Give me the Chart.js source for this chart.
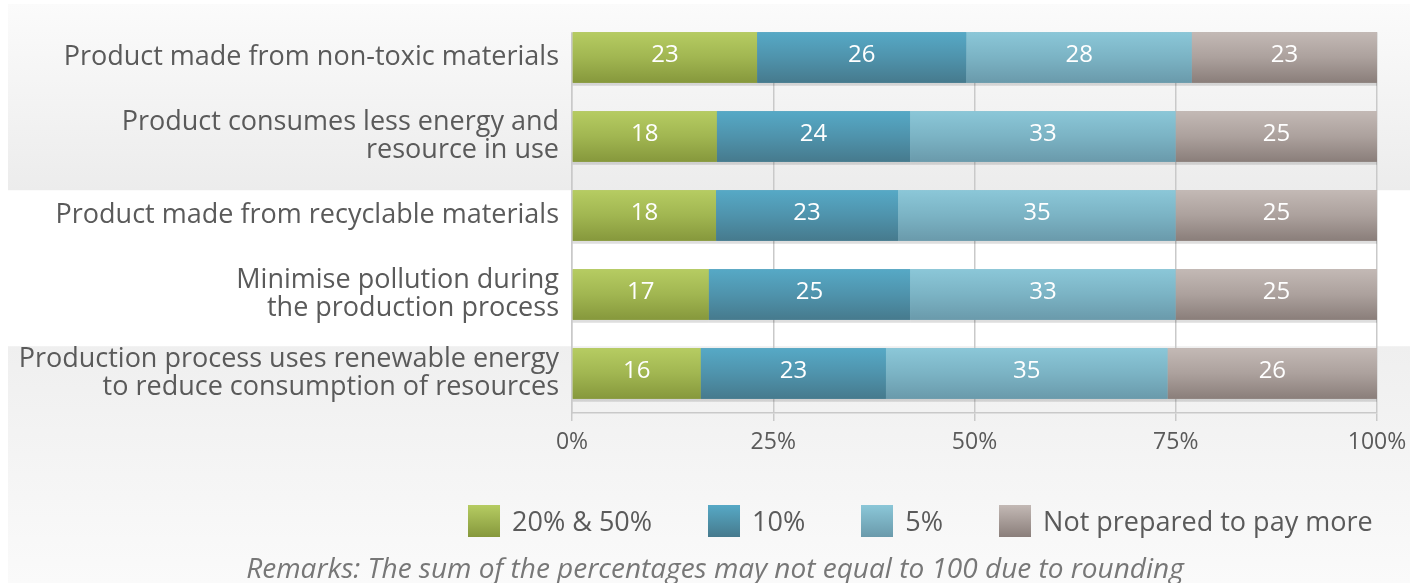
<!DOCTYPE html>
<html>
<head>
<meta charset="utf-8">
<script src="https://cdn.jsdelivr.net/npm/chart.js@4"></script>
<style>
  body { margin: 0; background: #fff; font-family: "Open Sans", sans-serif; }
  #wrap { position: relative; width: 1412px; height: 583px; }
  #legend { position: absolute; left: 468px; top: 502px; display: flex; align-items: center; white-space: nowrap; }
  .item { display: flex; align-items: center; margin-right: 56px; color: #5a5a5a; font-size: 27px; flex: none; }
  .box { width: 32px; height: 32px; margin-right: 12px; }
  #remark { position: absolute; left: 0; width: 1430px; top: 548px; text-align: center;
    font-style: italic; font-size: 28px; color: #777; white-space: nowrap; }
</style>
</head>
<body>
<div id="wrap">
  <canvas id="myChart" width="1412" height="583"></canvas>
  <div id="legend"></div>
  <div id="remark">Remarks: The sum of the percentages may not equal to 100 due to rounding</div>
</div>
<script>
var categories = [
  "Product made from non-toxic materials",
  ["Product consumes less energy and", "resource in use"],
  "Product made from recyclable materials",
  ["Minimise pollution during", "the production process"],
  ["Production process uses renewable energy", "to reduce consumption of resources"],
];

var seriesNames = ["20% & 50%", "10%", "5%", "Not prepared to pay more"];

var pay20to50 = [23, 18, 17.9, 17, 16];
var pay10 = [26, 24, 22.6, 25, 23];
var pay5 = [28, 33, 34.5, 33, 35];
var notPrepared = [23, 25, 25, 25, 26];

var tickValues = [0, 25, 50, 75, 100];

// top / bottom colours of each bar gradient
var topColors = ["#b6cc62", "#56a9c6", "#8bc7d8", "#c3b9b5"];
var bottomColors = ["#86983c", "#467a8d", "#6a9aab", "#8a7e7a"];
var midColors = ["#a1b651", "#4f93ac", "#7bb3c4", "#aca19d"];

function buildLegend() {
  var legend = document.getElementById("legend");
  seriesNames.forEach(function (name, i) {
    var item = document.createElement("div");
    item.className = "item";
    var box = document.createElement("div");
    box.className = "box";
    box.style.background = "linear-gradient(" + topColors[i] + ", " + bottomColors[i] + ")";
    var txt = document.createElement("span");
    txt.textContent = name;
    item.appendChild(box);
    item.appendChild(txt);
    legend.appendChild(item);
  });
}

function topBand(ctx, top3) {
  var g1 = ctx.createLinearGradient(0, 4, 0, top3);
  g1.addColorStop(0, "#fbfbfb");
  g1.addColorStop(1, "#ececec");
  return g1;
}

var bandsPlugin = {
  id: "bands",
  beforeDraw: function (chart) {
    var ctx = chart.ctx;
    var y = chart.scales.y;
    var half = (y.getPixelForValue(1) - y.getPixelForValue(0)) * 0.32;
    var top3 = y.getPixelForValue(2) - half;
    var top5 = y.getPixelForValue(4) - half;
    ctx.save();
    ctx.fillStyle = topBand(ctx, top3);
    ctx.fillRect(8, 4, 1402, top3 - 4);
    var g2 = ctx.createLinearGradient(0, top5 - 2, 0, 583);
    g2.addColorStop(0, "#efefef");
    g2.addColorStop(1, "#fafafa");
    ctx.fillStyle = g2;
    ctx.fillRect(8, top5 - 2, 1402, 583 - top5 + 2);
    ctx.restore();
  },
  // grid lines only start at the first bar
  beforeDatasetsDraw: function (chart) {
    var ctx = chart.ctx;
    var y = chart.scales.y;
    var half = (y.getPixelForValue(1) - y.getPixelForValue(0)) * 0.32;
    var top1 = y.getPixelForValue(0) - half;
    var top3 = y.getPixelForValue(2) - half;
    ctx.save();
    ctx.fillStyle = topBand(ctx, top3);
    ctx.fillRect(chart.chartArea.left - 2, chart.chartArea.top - 2, chart.chartArea.width + 4, top1 - chart.chartArea.top + 2);
    ctx.restore();
  },
};

var shadePlugin = {
  id: "shade",
  afterDatasetsDraw: function (chart) {
    var ctx = chart.ctx;
    ctx.save();
    chart.data.datasets.forEach(function (ds, i) {
      var meta = chart.getDatasetMeta(i);
      meta.data.forEach(function (bar, j) {
        var p = bar.getProps(["x", "y", "base", "height"], true);
        var left = Math.min(p.x, p.base);
        var w = Math.abs(p.x - p.base);
        var t = p.y - p.height / 2;
        var g = ctx.createLinearGradient(0, t, 0, t + p.height);
        g.addColorStop(0, topColors[i]);
        g.addColorStop(0.5, midColors[i]);
        g.addColorStop(1, bottomColors[i]);
        ctx.fillStyle = g;
        ctx.fillRect(left, t, w, p.height);
        ctx.fillStyle = "rgba(0,0,0,0.13)";
        ctx.fillRect(left, t + p.height, w, 3);
        ctx.fillStyle = "#ffffff";
        ctx.font = "24px 'Open Sans'";
        ctx.textAlign = "center";
        ctx.textBaseline = "middle";
        ctx.fillText(String(Math.round(ds.data[j])), left + w / 2, p.y - 2);
      });
    });
    ctx.restore();
  },
};

window.onload = function () {
  buildLegend();
  var ctx = document.getElementById("myChart").getContext("2d");
  var datasets = [pay20to50, pay10, pay5, notPrepared].map(function (d, i) {
    return {
      label: seriesNames[i],
      data: d,
      backgroundColor: midColors[i],
      borderWidth: 0,
      categoryPercentage: 1,
      barPercentage: 0.64,
    };
  });
  new Chart(ctx, {
    type: "bar",
    data: { labels: categories, datasets: datasets },
    plugins: [bandsPlugin, shadePlugin],
    options: {
      indexAxis: "y",
      responsive: false,
      animation: false,
      layout: { padding: { left: 8, right: 35, top: 18, bottom: 0 } },
      plugins: { legend: { display: false }, tooltip: { enabled: false } },
      scales: {
        x: {
          stacked: true,
          min: 0,
          max: 100,
          afterBuildTicks: function (scale) {
            scale.ticks = tickValues.map(function (v) { return { value: v }; });
          },
          afterFit: function (scale) {
            scale.height = 170;
            scale.paddingLeft = 0;
            scale.paddingRight = 0;
          },
          grid: { color: "#c9c9c9", lineWidth: 1.5, tickLength: 8 },
          border: { color: "#c9c9c9", width: 1.5 },
          ticks: {
            color: "#5a5a5a",
            font: { family: "Open Sans", size: 23 },
            padding: 8,
            callback: function (v) { return v + "%"; },
          },
        },
        y: {
          stacked: true,
          afterFit: function (scale) {
            scale.width = 564;
            scale.paddingTop = 0;
            scale.paddingBottom = 0;
          },
          grid: { display: false },
          border: { color: "#c9c9c9", width: 1.5 },
          ticks: {
            color: "#5a5a5a",
            font: { family: "Open Sans", size: 27, lineHeight: 1.04 },
            padding: 5,
          },
        },
      },
    },
  });
};
</script>
</body>
</html>
